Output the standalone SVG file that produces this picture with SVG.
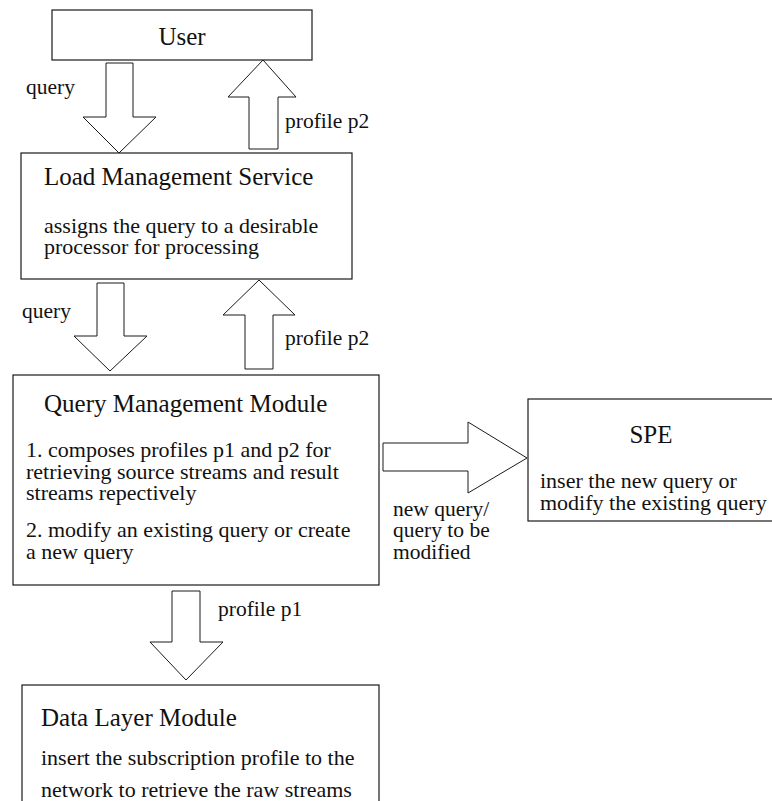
<svg xmlns="http://www.w3.org/2000/svg" width="772" height="801" viewBox="0 0 772 801">
  <style>
    .box { fill: #ffffff; stroke: #1a1a1a; stroke-width: 1.2; }
    .arrow { fill: #ffffff; stroke: #1a1a1a; stroke-width: 1; stroke-linejoin: miter; }
    text { font-family: 'Liberation Serif', 'Times New Roman', serif; fill: #111; }
    .title { font-size: 25px; }
    .body { font-size: 22px; }
    .label { font-size: 21.5px; }
  </style>
  <rect width="772" height="801" fill="#ffffff"/>

  <g id="user">
    <rect class="box" x="52" y="10" width="260" height="50"/>
    <text class="title" x="182" y="45" text-anchor="middle">User</text>
  </g>

  <g id="load-management-service">
    <rect class="box" x="21" y="153" width="331" height="126"/>
    <text class="title" x="44" y="185">Load Management Service</text>
    <text class="body" x="44" y="233">assigns the query to a desirable</text>
    <text class="body" x="44" y="254">processor for processing</text>
  </g>

  <g id="query-management-module">
    <rect class="box" x="13" y="375" width="366" height="210"/>
    <text class="title" x="44" y="412">Query Management Module</text>
    <text class="body" x="26" y="457">1. composes profiles p1 and p2 for</text>
    <text class="body" x="26" y="479">retrieving source streams and result</text>
    <text class="body" x="26" y="500">streams repectively</text>
    <text class="body" x="26" y="537">2. modify an existing query or create</text>
    <text class="body" x="26" y="559">a new query</text>
  </g>

  <g id="spe">
    <rect class="box" x="528" y="399" width="260" height="122"/>
    <text class="title" x="651" y="443" text-anchor="middle">SPE</text>
    <text class="body" x="540" y="488">inser the new query or</text>
    <text class="body" x="540" y="510">modify the existing query</text>
  </g>

  <g id="data-layer-module">
    <rect class="box" x="22" y="685" width="357" height="130"/>
    <text class="title" x="41" y="726">Data Layer Module</text>
    <text class="body" x="41" y="765">insert the subscription profile to the</text>
    <text class="body" x="41" y="797">network to retrieve the raw streams</text>
  </g>

  <g id="connectors">
    <!-- User -> Load Management Service -->
    <polygon class="arrow" points="106,63 133,63 133,117 156,117 119,153 83,117 106,117"/>
    <text class="label" x="26" y="94">query</text>
    <!-- Load Management Service -> User -->
    <polygon class="arrow" points="263,60 296,97 278,97 278,149 249,149 249,97 228,97"/>
    <text class="label" x="285" y="128">profile p2</text>

    <!-- Load Management Service -> Query Management Module -->
    <polygon class="arrow" points="97,283 124,283 124,336 147,336 110,371 74,336 97,336"/>
    <text class="label" x="22" y="318">query</text>
    <!-- Query Management Module -> Load Management Service -->
    <polygon class="arrow" points="259,280 295,315 273,315 273,369 245,369 245,315 223,315"/>
    <text class="label" x="285" y="345">profile p2</text>

    <!-- Query Management Module -> SPE -->
    <polygon class="arrow" points="383,443 468,443 468,422 527,458 468,493 468,471 383,471"/>
    <text class="label" x="393" y="516">new query/</text>
    <text class="label" x="393" y="537">query to be</text>
    <text class="label" x="393" y="559">modified</text>

    <!-- Query Management Module -> Data Layer Module -->
    <polygon class="arrow" points="172,591 200,591 200,642 223,642 186,680 150,642 172,642"/>
    <text class="label" x="218" y="616">profile p1</text>
  </g>
</svg>
